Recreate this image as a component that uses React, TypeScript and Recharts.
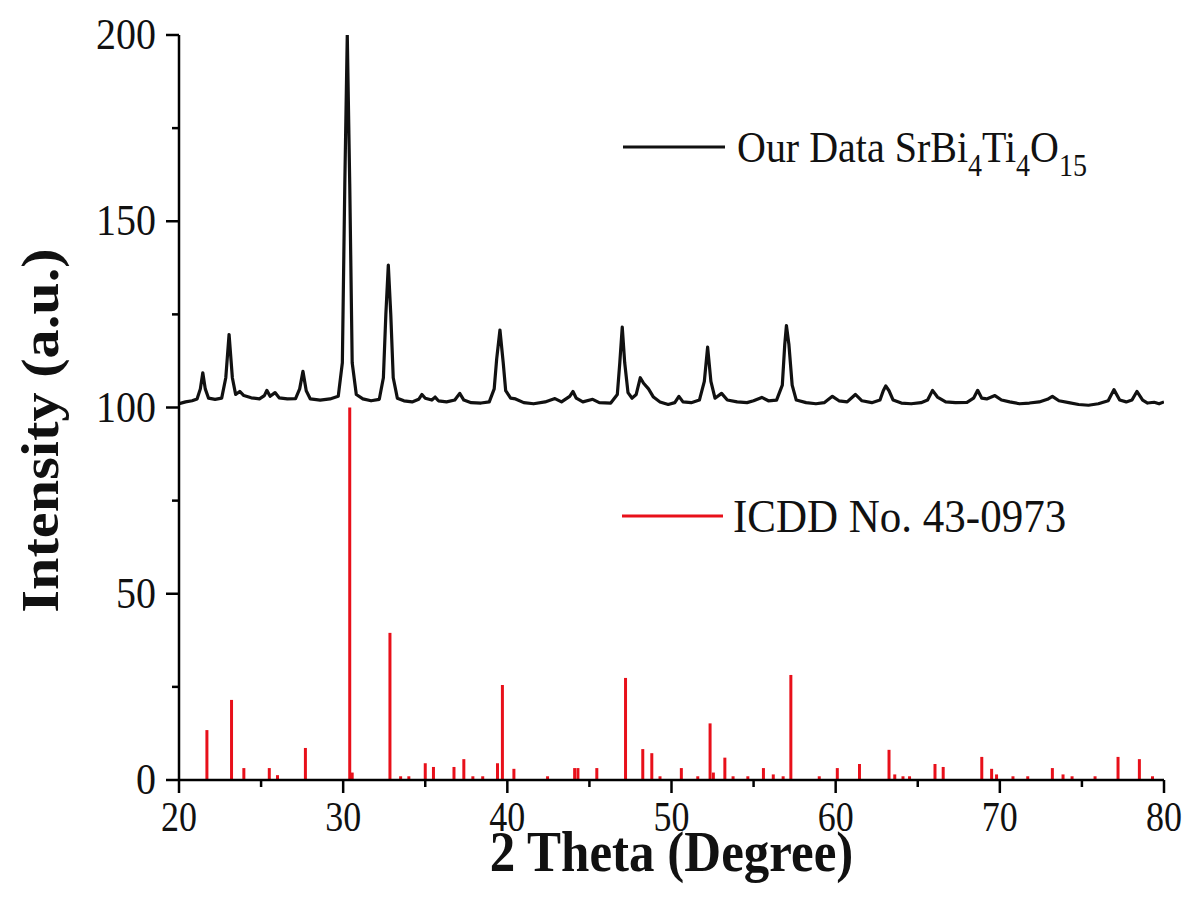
import React from "react";
import { ComposedChart, Line, XAxis, YAxis, ReferenceLine, Label } from "recharts";

// measured XRD pattern (2 theta, intensity)
const obsTheta = [
  20.0, 20.4, 20.8, 21.1, 21.3, 21.45, 21.6, 21.8, 22.2, 22.6, 22.85, 23.05, 23.25, 23.45, 23.7, 23.95,
  24.4, 24.9, 25.2, 25.35, 25.55, 25.85, 26.1, 26.6, 27.1, 27.35, 27.55, 27.75, 28.0, 28.6, 29.2, 29.7,
  29.95, 30.1, 30.25, 30.4, 30.55, 30.8, 31.2, 31.7, 32.2, 32.45, 32.6, 32.75, 32.9, 33.05, 33.3, 33.7,
  34.2, 34.6, 34.8, 35.0, 35.4, 35.6, 35.8, 36.3, 36.8, 37.1, 37.35, 37.8, 38.4, 38.9, 39.2, 39.35,
  39.55, 39.75, 39.9, 40.2, 40.5, 41.0, 41.6, 42.3, 42.9, 43.3, 43.8, 44.0, 44.2, 44.6, 45.2, 45.6,
  46.3, 46.7, 46.85, 47.0, 47.15, 47.35, 47.6, 47.85, 48.1, 48.3, 48.6, 48.9, 49.3, 49.8, 50.2, 50.45,
  50.7, 51.2, 51.7, 52.0, 52.2, 52.4, 52.65, 53.05, 53.4, 54.0, 54.6, 55.0, 55.5, 55.9, 56.4, 56.75,
  56.9, 57.0, 57.15, 57.35, 57.6, 58.2, 58.8, 59.3, 59.8, 60.2, 60.7, 61.2, 61.6, 62.2, 62.7, 62.9,
  63.05, 63.25, 63.5, 64.0, 64.6, 65.2, 65.6, 65.9, 66.2, 66.7, 67.3, 68.0, 68.4, 68.65, 68.9, 69.2,
  69.7, 70.1, 70.6, 71.2, 71.8, 72.4, 72.9, 73.2, 73.6, 74.2, 74.8, 75.4, 76.0, 76.6, 76.95, 77.3,
  77.7, 78.05, 78.35, 78.7, 79.0, 79.4, 79.7, 80.0,
];
const obsIntensity = [
  101.0, 101.5, 101.8, 102.3, 105, 109.3, 105, 102.5, 102.2, 102.5, 108, 119.6, 108, 103.5, 104.3, 103.2,
  102.6, 102.3, 103.2, 104.6, 103, 104, 102.6, 102.3, 102.4, 105, 109.7, 104.5, 102.3, 102, 102.3, 103,
  112, 160, 200, 160, 112, 103.5, 102.3, 101.8, 102.2, 108, 125, 138.2, 125, 108, 102.5, 101.8,
  101.5, 102.2, 103.5, 102.5, 102, 102.8, 101.8, 101.5, 102, 103.8, 102, 101.3, 101.2, 101.5, 105, 113,
  120.8, 112, 104.5, 102.5, 102.3, 101.3, 101, 101.5, 102.4, 101.5, 103, 104.3, 102.5, 101.5, 102.2, 101.3,
  101.2, 103.5, 112, 121.6, 112, 104, 102.5, 103.5, 108, 106.5, 105, 102.8, 101.5, 100.8, 101.3, 103,
  101.5, 101.3, 102, 107, 116.2, 107, 102.5, 103.8, 102, 101.5, 101.3, 101.8, 102.7, 101.8, 102, 106,
  117, 122, 117, 106, 102, 101.3, 101, 101.3, 103, 101.8, 101.5, 103.5, 101.8, 101.3, 102, 104.5,
  105.8, 104.5, 102, 101.2, 101, 101.3, 102, 104.6, 102.8, 101.5, 101.3, 101.4, 102.5, 104.6, 102.5, 102.3,
  103.2, 102, 101.5, 101, 101.2, 101.5, 102.2, 103, 101.8, 101.3, 100.8, 100.6, 101, 101.8, 104.8, 102,
  101.5, 102, 104.3, 102, 101.2, 101.4, 101, 101.5,
];

// ICDD No. 43-0973 reference lines
const refTheta = [
  21.7, 23.2, 23.95, 25.5, 26.0, 27.7, 30.4, 30.55, 32.85, 33.5, 34.0, 35.0, 35.5, 36.75, 37.35, 37.9,
  38.5, 39.4, 39.7, 40.4, 42.45, 44.1, 44.3, 45.45, 47.2, 48.25, 48.8, 49.3, 50.6, 51.6, 52.35, 52.55,
  53.25, 53.75, 54.65, 55.6, 56.2, 56.8, 57.27, 59.0, 60.1, 61.45, 63.25, 63.6, 64.1, 64.5, 66.05, 66.55,
  68.9, 69.5, 69.8, 70.8, 71.7, 73.2, 73.85, 74.4, 75.8, 77.2, 78.5, 79.3,
];
const refIntensity = [
  13.4, 21.5, 3.2, 3.2, 1.3, 8.6, 100, 2, 39.5, 1, 1, 4.5, 3.5, 3.5, 5.6, 1,
  1, 4.5, 25.5, 3, 1, 3.2, 3.2, 3.2, 27.4, 8.3, 7.2, 1, 3.2, 1, 15.2, 2,
  6, 1, 1, 3.2, 1.5, 1, 28.2, 1, 3.2, 4.3, 8.1, 1.5, 1, 1, 4.3, 3.5,
  6.2, 3, 1.5, 1, 1, 3.2, 1.5, 1, 1, 6.2, 5.6, 1,
];

const xTicks = [20, 25, 30, 35, 40, 45, 50, 55, 60, 65, 70, 75, 80];
const yTicks = [0, 25, 50, 75, 100, 125, 150, 175, 200];

const data = obsTheta.map((t, i) => ({ theta: t, obs: obsIntensity[i] }));

const FONT = "'Liberation Serif', 'Times New Roman', serif";
const STRETCH = 1.1;

const XTick = (props: any) => {
  const { x, y, payload } = props;
  const v = payload.value;
  const major = v % 10 === 0;
  return (
    <g>
      <line x1={x} x2={x} y1={y} y2={y + (major ? 13 : 7)} stroke="#000" strokeWidth={2.5} />
      {major && (
        <text
          transform={`translate(${x},${y + 51}) scale(1,1.2)`}
          textAnchor="middle"
          fontSize={36}
          fontFamily={FONT}
          fill="#111"
        >
          {v}
        </text>
      )}
    </g>
  );
};

const YTick = (props: any) => {
  const { x, y, payload } = props;
  const v = payload.value;
  const major = v % 50 === 0;
  return (
    <g>
      <line x1={x} x2={x - (major ? 13 : 7)} y1={y} y2={y} stroke="#000" strokeWidth={2.5} />
      {major && (
        <text
          transform={`translate(${x - 23},${y + 14}) scale(1,${STRETCH})`}
          textAnchor="end"
          fontSize={40}
          fontFamily={FONT}
          fill="#111"
        >
          {v}
        </text>
      )}
    </g>
  );
};

const XTitle = (props: any) => {
  const vb = props.viewBox;
  return (
    <text
      transform={`translate(${vb.x + vb.width / 2},${vb.y + 91}) scale(1,${STRETCH})`}
      textAnchor="middle"
      fontSize={51}
      fontWeight="bold"
      fontFamily={FONT}
      fill="#111"
    >
      2 Theta (Degree)
    </text>
  );
};

const YTitle = (props: any) => {
  const vb = props.viewBox;
  return (
    <text
      transform={`translate(${vb.x + 58},${vb.y + vb.height / 2 + 23}) scale(1,${STRETCH}) rotate(-90)`}
      textAnchor="middle"
      fontSize={53}
      fontWeight="bold"
      fontFamily={FONT}
      fill="#111"
    >
      Intensity (a.u.)
    </text>
  );
};

export default function App() {
  return (
    <div style={{ position: "absolute", left: 0, top: 0, width: 1182, height: 897, background: "#fff" }}>
      <ComposedChart width={1182} height={897} data={data} margin={{ top: 35, right: 18, bottom: 0, left: 0 }}>
        <XAxis
          dataKey="theta"
          type="number"
          domain={[20, 80]}
          ticks={xTicks}
          interval={0}
          allowDataOverflow
          height={117}
          tickSize={0}
          tickMargin={0}
          tickLine={false}
          tick={<XTick />}
          axisLine={{ stroke: "#000", strokeWidth: 2.5 }}
        >
          <Label content={<XTitle />} />
        </XAxis>
        <XAxis
          xAxisId="top"
          orientation="top"
          dataKey="theta"
          type="number"
          domain={[20, 80]}
          height={0}
          tick={false}
          tickLine={false}
          axisLine={{ stroke: "#000", strokeWidth: 2.5 }}
        />
        <YAxis
          type="number"
          domain={[0, 200]}
          ticks={yTicks}
          interval={0}
          allowDataOverflow
          width={179}
          tickSize={0}
          tickMargin={0}
          tickLine={false}
          tick={<YTick />}
          axisLine={{ stroke: "#000", strokeWidth: 2.5 }}
        >
          <Label content={<YTitle />} />
        </YAxis>
        <YAxis
          yAxisId="right"
          orientation="right"
          type="number"
          domain={[0, 200]}
          width={0}
          tick={false}
          tickLine={false}
          axisLine={{ stroke: "#000", strokeWidth: 2.5 }}
        />
        {refTheta.map((t, i) => (
          <ReferenceLine
            key={"ref" + i}
            segment={[
              { x: t, y: 0 },
              { x: t, y: refIntensity[i] },
            ]}
            stroke="#e8101a"
            strokeWidth={3}
          />
        ))}
        <Line
          type="linear"
          dataKey="obs"
          stroke="#111"
          strokeWidth={3.2}
          dot={false}
          strokeLinejoin="round"
          isAnimationActive={false}
        />
      </ComposedChart>
      <svg
        width={1182}
        height={897}
        style={{ position: "absolute", left: 0, top: 0, pointerEvents: "none" }}
      >
        <line x1={623} x2={725} y1={147} y2={147} stroke="#111" strokeWidth={3} />
        <text transform={`translate(737,162) scale(1,${STRETCH})`} fontSize={40} fontFamily={FONT} fill="#111">
          Our Data SrBi
          <tspan fontSize={28} dy={13}>4</tspan>
          <tspan dy={-13}>Ti</tspan>
          <tspan fontSize={28} dy={13}>4</tspan>
          <tspan dy={-13}>O</tspan>
          <tspan fontSize={28} dy={13}>15</tspan>
        </text>
        <line x1={622} x2={723} y1={516} y2={516} stroke="#e8101a" strokeWidth={3} />
        <text transform={`translate(733,532) scale(1,${STRETCH})`} fontSize={43} fontFamily={FONT} fill="#111">
          ICDD No. 43-0973
        </text>
      </svg>
    </div>
  );
}
